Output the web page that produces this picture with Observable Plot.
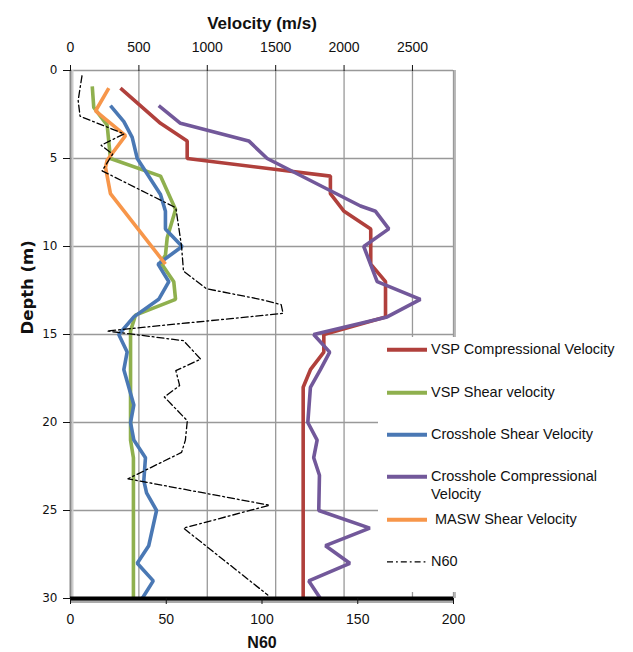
<!DOCTYPE html>
<html>
<head>
<meta charset="utf-8">
<script src="https://cdn.jsdelivr.net/npm/d3@7"></script>
<script src="https://cdn.jsdelivr.net/npm/@observablehq/plot@0.6"></script>
<style>
  body { margin: 0; background: #fff; }
  #wrap { position: relative; width: 633px; height: 652px; }
  #legend { position: absolute; left: 378px; top: 337px; width: 255px; height: 255px; background: #fff;
            font-family: "Liberation Sans", Arial, Helvetica, sans-serif; font-size: 14.5px; color: #111; }
  .item { position: absolute; left: 9px; display: flex; align-items: flex-start; line-height: 17.6px; }
  .item svg { flex: none; display: block; }
  .item span { white-space: pre; margin-left: 4px; }
</style>
</head>
<body>
<div id="wrap"><div id="legend"></div></div>
<script>
// ---- Data ----
const vspCompDepth = [1, 3, 4, 5, 6, 7, 8, 9, 11, 12, 14, 15, 16, 17, 18, 30];
const vspCompVel   = [365, 658, 853, 853, 1900, 1900, 2000, 2195, 2195, 2303, 2303, 1852, 1852, 1754, 1701, 1701];

const vspShearDepth = [0.9, 2.1, 3.1, 5, 6, 7.9, 9.5, 10.5, 10.9, 12, 13, 13.9, 14.8, 21, 22, 30];
const vspShearVel   = [159, 170, 268, 292, 658, 768, 707, 694, 658, 755, 768, 475, 439, 439, 460, 460];

const xhShearDepth = [2, 2.9, 3.8, 5, 7.05, 8, 9, 10, 11, 12, 13, 14, 15, 16, 17, 19, 20, 21, 22, 23.3, 24, 25, 27, 28, 29, 30];
const xhShearVel   = [292, 390, 451, 488, 658, 694, 694, 816, 640, 719, 645, 463, 353, 414, 390, 463, 439, 463, 548, 536, 556, 629, 572, 488, 605, 524];

const xhCompDepth = [2, 3, 4, 5, 7.7, 8, 9, 10, 12, 13, 14, 15, 16, 17, 18, 20, 21, 22, 23, 25, 26, 27, 28, 29, 30];
const xhCompVel   = [645, 804, 1303, 1438, 2120, 2230, 2327, 2144, 2242, 2558, 2315, 1778, 1895, 1827, 1754, 1735, 1803, 1778, 1820, 1815, 2188, 1864, 2042, 1742, 1827];

const maswDepth = [1, 2.3, 3.7, 5.1, 5.5, 7, 11];
const maswVel   = [280, 183, 402, 268, 256, 292, 694];

const n60Depth = [0.3, 1.7, 2.6, 3.6, 4.25, 4.75, 5.7, 7.8, 10, 11.4, 12.4, 13, 13.3, 13.8, 14.8, 15.35, 16.4, 17.05, 17.9, 18.55, 19.9, 21, 21.7, 23.2, 24.7, 26, 29.8];
const n60Value = [6, 4, 5, 28, 16, 22, 16.5, 55, 58, 59, 71, 99, 110, 111, 19, 59, 68, 55, 57, 49, 61, 60, 58, 30, 104, 59, 103];

const velTicks   = [0, 500, 1000, 1500, 2000, 2500];
const velGrid    = [500, 1000, 1500, 2000, 2500];
const n60Ticks   = [0, 50, 100, 150, 200];
const depthTicks = [0, 5, 10, 15, 20, 25, 30];
const velMax = 2800, n60Max = 200;

const seriesNames = ["VSP Compressional Velocity", "VSP Shear velocity", "Crosshole Shear Velocity",
                     "Crosshole Compressional\nVelocity", " MASW Shear Velocity", "N60"];
const seriesColors = ["#b0403c", "#8fb04e", "#4a78b4", "#72589a", "#f7964a", "#000000"];

// ---- Build ----
const K = velMax / n60Max;
const zip = (ds, vs) => ds.map((d, i) => ({d, v: vs[i]}));
const lineData = [
  zip(vspCompDepth, vspCompVel),
  zip(vspShearDepth, vspShearVel),
  zip(xhShearDepth, xhShearVel),
  zip(xhCompDepth, xhCompVel),
  zip(maswDepth, maswVel)
];
const n60Data = n60Depth.map((d, i) => ({d, n: n60Value[i]}));

const lineMarks = lineData.map((data, i) =>
  Plot.line(data, {x: "v", y: "d", stroke: seriesColors[i], strokeWidth: 3.6, strokeLinejoin: "miter", strokeLinecap: "butt"})
);

const chart = Plot.plot({
  width: 633, height: 652,
  marginLeft: 70, marginRight: 180, marginTop: 70, marginBottom: 54,
  x: {domain: [0, velMax]},
  y: {domain: [0, 30], reverse: true},
  style: {fontFamily: "'Liberation Sans', Arial, Helvetica, sans-serif", fontSize: "14px", color: "#111", background: "#fff", overflow: "visible"},
  marks: [
    Plot.gridY(depthTicks, {stroke: "#999", strokeOpacity: 1, strokeWidth: 1.3}),
    Plot.gridX(velGrid, {stroke: "#999", strokeOpacity: 1, strokeWidth: 1.3}),
    Plot.ruleX([velMax], {stroke: "#bbb", strokeWidth: 2, dx: 1.5}),
    Plot.ruleX([velMax], {stroke: "#999", strokeWidth: 1.3}),
    ...lineMarks,
    Plot.line(n60Data, {x: d => d.n * K, y: "d", stroke: "#000", strokeWidth: 1.3, strokeDasharray: "7,3,1.8,3"}),
    Plot.ruleX([0], {stroke: "#ccc", strokeWidth: 2, dx: 2}),
    Plot.ruleX([0], {stroke: "#888", strokeWidth: 2}),
    Plot.ruleY([30], {stroke: "#aaa", strokeWidth: 3, dy: 3}),
    Plot.ruleY([30], {stroke: "#000", strokeWidth: 4}),
    Plot.axisX(velTicks, {anchor: "top", tickSize: 6, tickPadding: 13, tickFormat: d => String(d), label: null, fontSize: 14}),
    Plot.axisX(n60Ticks.map(n => n * K), {anchor: "bottom", tickSize: 6, tickPadding: 10, tickFormat: d => String(Math.round(d / K)), label: null, fontSize: 14}),
    Plot.axisY(depthTicks, {anchor: "left", tickSize: 7, tickPadding: 6, label: null, fontFamily: "DejaVu Sans", fontSize: 12}),
    Plot.text(["Velocity (m/s)"], {frameAnchor: "top", dy: -54, fontWeight: "bold", fontSize: 17}),
    Plot.text(["N60"], {frameAnchor: "bottom", dy: 49, fontWeight: "bold", fontSize: 16}),
    Plot.text(["Depth (m)"], {frameAnchor: "left", dx: -43, rotate: -90, fontWeight: "bold", fontSize: 16.5, fontFamily: "DejaVu Sans"})
  ]
});
const wrap = document.getElementById("wrap");
wrap.insertBefore(chart, wrap.firstChild);

// ---- Legend ----
const legend = d3.select("#legend");
seriesNames.forEach((name, i) => {
  const item = legend.append("div").attr("class", "item").style("top", (13 + i * 42.4 - 8.8) + "px");
  const svg = item.append("svg").attr("width", 40).attr("height", 17.6);
  svg.append("line").attr("x1", 0).attr("x2", 40).attr("y1", 8.8).attr("y2", 8.8)
     .attr("stroke", seriesColors[i])
     .attr("stroke-width", i === 5 ? 1.3 : 4)
     .attr("stroke-dasharray", i === 5 ? "6,3,1.8,3" : null);
  item.append("span").text(name);
});
</script>
</body>
</html>
